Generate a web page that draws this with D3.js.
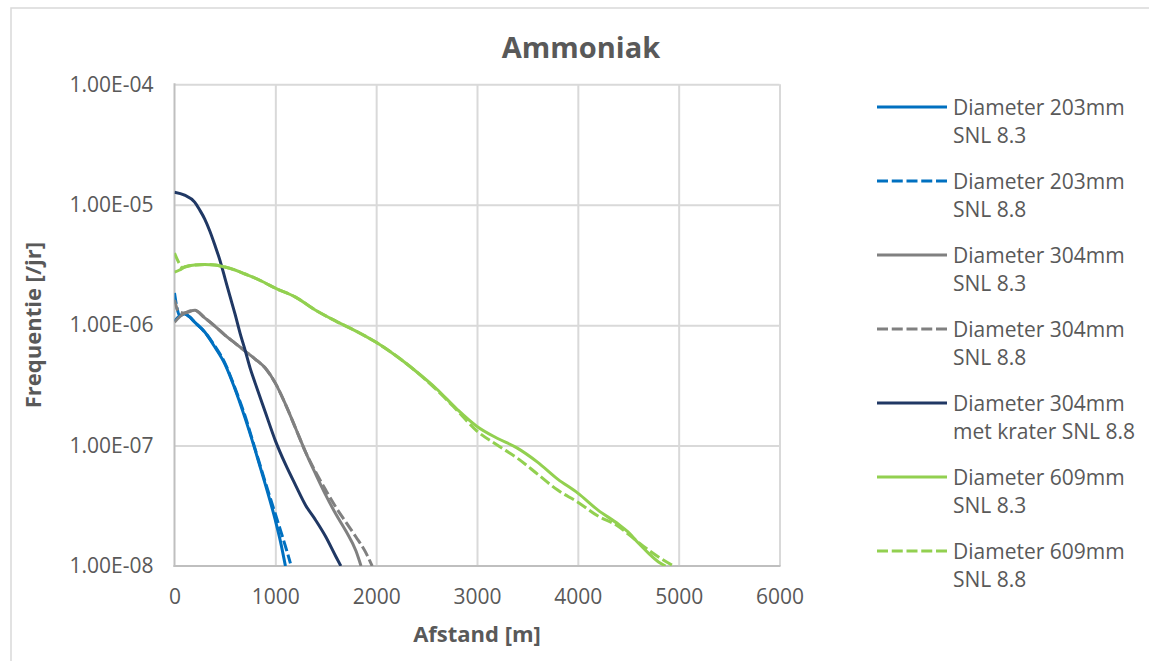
<!DOCTYPE html>
<html>
<head>
<meta charset="utf-8">
<script src="https://cdn.jsdelivr.net/npm/d3@7"></script>
<style>
  html, body { margin: 0; padding: 0; background: #fff; }
  svg { display: block; font-family: "Open Sans", sans-serif; }
</style>
</head>
<body>
<svg id="chart" width="1149" height="661"></svg>
<script>
// Distance axis ticks and frequency axis ticks
const xTicks = [0, 1000, 2000, 3000, 4000, 5000, 6000];
const yTicks = [1e-4, 1e-5, 1e-6, 1e-7, 1e-8];
const yTickLabels = ["1.00E-04", "1.00E-05", "1.00E-06", "1.00E-07", "1.00E-08"];

// Diameter 203mm, SNL 8.3
const d203_83_x = [0, 50, 100, 150, 200, 300, 400, 500, 600, 700, 800, 900, 1000, 1050, 1100];
const d203_83_y = [1.08e-6, 1.19e-6, 1.24e-6, 1.17e-6, 1.06e-6, 8.77e-7, 6.58e-7, 4.75e-7, 2.95e-7, 1.69e-7, 9.18e-8, 4.79e-8, 2.40e-8, 1.61e-8, 1.0e-8];

// Diameter 203mm, SNL 8.8
const d203_88_x = [0, 25, 50, 100, 150, 200, 300, 400, 500, 600, 700, 800, 900, 1000, 1050, 1100, 1150];
const d203_88_y = [1.85e-6, 1.39e-6, 1.2e-6, 1.24e-6, 1.17e-6, 1.06e-6, 8.77e-7, 6.71e-7, 4.84e-7, 3.0e-7, 1.76e-7, 9.35e-8, 4.98e-8, 2.70e-8, 1.99e-8, 1.46e-8, 1.05e-8];

// Diameter 304mm, SNL 8.3
const d304_83_x = [0, 100, 200, 300, 400, 500, 600, 700, 800, 900, 1000, 1100, 1200, 1300, 1400, 1500, 1600, 1700, 1800, 1850];
const d304_83_y = [1.06e-6, 1.26e-6, 1.33e-6, 1.15e-6, 9.83e-7, 8.27e-7, 7.10e-7, 6.09e-7, 5.23e-7, 4.40e-7, 3.30e-7, 2.21e-7, 1.40e-7, 8.83e-8, 5.80e-8, 3.88e-8, 2.70e-8, 1.95e-8, 1.33e-8, 1.0e-8];

// Diameter 304mm, SNL 8.8
const d304_88_x = [0, 40, 100, 200, 300, 400, 500, 600, 700, 800, 900, 1000, 1100, 1200, 1300, 1400, 1500, 1600, 1700, 1800, 1900, 1960];
const d304_88_y = [1.62e-6, 1.3e-6, 1.26e-6, 1.33e-6, 1.15e-6, 9.83e-7, 8.27e-7, 7.10e-7, 6.09e-7, 5.23e-7, 4.40e-7, 3.30e-7, 2.21e-7, 1.40e-7, 8.83e-8, 6.03e-8, 4.27e-8, 3.08e-8, 2.31e-8, 1.74e-8, 1.28e-8, 1.0e-8];

// Diameter 304mm met krater, SNL 8.8
const d304k_88_x = [0, 100, 200, 250, 300, 350, 400, 450, 500, 550, 600, 650, 700, 750, 800, 900, 1000, 1100, 1200, 1300, 1400, 1500, 1600, 1650];
const d304k_88_y = [1.27e-5, 1.2e-5, 1.05e-5, 9.04e-6, 7.6e-6, 6.05e-6, 4.63e-6, 3.47e-6, 2.46e-6, 1.74e-6, 1.24e-6, 8.6e-7, 6.21e-7, 4.4e-7, 3.3e-7, 1.9e-7, 1.1e-7, 7.0e-8, 4.7e-8, 3.2e-8, 2.4e-8, 1.75e-8, 1.2e-8, 1.0e-8];

// Diameter 609mm, SNL 8.3
const d609_83_x = [0, 50, 100, 200, 300, 400, 500, 600, 700, 800, 900, 1000, 1200, 1400, 1600, 1800, 2000, 2200, 2400, 2600, 2800, 3000, 3200, 3400, 3600, 3800, 4000, 4200, 4400, 4500, 4600, 4700, 4800, 4870];
const d609_83_y = [2.76e-6, 2.87e-6, 3.04e-6, 3.16e-6, 3.19e-6, 3.16e-6, 3.04e-6, 2.87e-6, 2.66e-6, 2.46e-6, 2.24e-6, 2.03e-6, 1.71e-6, 1.33e-6, 1.08e-6, 8.93e-7, 7.2e-7, 5.54e-7, 4.1e-7, 2.95e-7, 2.01e-7, 1.44e-7, 1.15e-7, 9.53e-8, 7.29e-8, 5.27e-8, 4.03e-8, 2.91e-8, 2.23e-8, 1.91e-8, 1.55e-8, 1.28e-8, 1.08e-8, 1.0e-8];

// Diameter 609mm, SNL 8.8
const d609_88_x = [0, 40, 80, 100, 200, 300, 400, 500, 600, 700, 800, 900, 1000, 1200, 1400, 1600, 1800, 2000, 2200, 2400, 2600, 2800, 3000, 3200, 3400, 3600, 3800, 4000, 4200, 4400, 4500, 4700, 4800, 4950];
const d609_88_y = [3.97e-6, 3.34e-6, 3.0e-6, 3.04e-6, 3.16e-6, 3.19e-6, 3.16e-6, 3.04e-6, 2.87e-6, 2.66e-6, 2.46e-6, 2.24e-6, 2.03e-6, 1.71e-6, 1.33e-6, 1.08e-6, 8.93e-7, 7.2e-7, 5.54e-7, 4.1e-7, 2.9e-7, 1.97e-7, 1.32e-7, 1.01e-7, 7.87e-8, 5.80e-8, 4.27e-8, 3.39e-8, 2.60e-8, 2.14e-8, 1.84e-8, 1.36e-8, 1.19e-8, 1.0e-8];

const seriesNames = [
  ["Diameter 203mm", "SNL 8.3"],
  ["Diameter 203mm", "SNL 8.8"],
  ["Diameter 304mm", "SNL 8.3"],
  ["Diameter 304mm", "SNL 8.8"],
  ["Diameter 304mm", "met krater SNL 8.8"],
  ["Diameter 609mm", "SNL 8.3"],
  ["Diameter 609mm", "SNL 8.8"]
];
const seriesX = [d203_83_x, d203_88_x, d304_83_x, d304_88_x, d304k_88_x, d609_83_x, d609_88_x];
const seriesY = [d203_83_y, d203_88_y, d304_83_y, d304_88_y, d304k_88_y, d609_83_y, d609_88_y];
const seriesColors = ["#0070C0", "#0070C0", "#808080", "#808080", "#203864", "#92D050", "#92D050"];
const seriesDashed = [false, true, false, true, false, false, true];

const svg = d3.select("#chart");
const textColor = "#595959";
const plot = { left: 174.5, right: 779.5, top: 84.3, bottom: 566 };

// Outer chart frame
svg.append("rect")
  .attr("x", 11).attr("y", 8)
  .attr("width", 1300).attr("height", 800)
  .attr("fill", "#fff")
  .attr("stroke", "#D9D9D9").attr("stroke-width", 1.5);

const x = d3.scaleLinear().domain([0, 6000]).range([plot.left, plot.right]);
const y = d3.scaleLog().domain([1e-8, 1e-4]).range([plot.bottom, plot.top]);

// Gridlines
const gridX = svg.append("g")
  .attr("transform", `translate(0,${plot.bottom})`)
  .call(d3.axisBottom(x).tickValues(xTicks.slice(1)).tickSize(-(plot.bottom - plot.top)).tickFormat(""));
gridX.select(".domain").remove();
gridX.selectAll("line").attr("stroke", "#D9D9D9").attr("stroke-width", 2);

const gridY = svg.append("g")
  .attr("transform", `translate(${plot.left},0)`)
  .call(d3.axisLeft(y).tickValues(yTicks.slice(0, 4)).tickSize(-(plot.right - plot.left)).tickFormat(""));
gridY.select(".domain").remove();
gridY.selectAll("line").attr("stroke", "#D9D9D9").attr("stroke-width", 2);

// Axis lines
svg.append("line")
  .attr("x1", plot.left).attr("x2", plot.left)
  .attr("y1", plot.top - 1).attr("y2", plot.bottom + 1)
  .attr("stroke", "#BFBFBF").attr("stroke-width", 2);
svg.append("line")
  .attr("x1", plot.left - 1).attr("x2", plot.right + 1)
  .attr("y1", plot.bottom).attr("y2", plot.bottom)
  .attr("stroke", "#BFBFBF").attr("stroke-width", 2);

// Tick labels
const xAxis = svg.append("g")
  .attr("transform", `translate(0,${plot.bottom})`)
  .call(d3.axisBottom(x).tickValues(xTicks).tickSize(0).tickPadding(23).tickFormat(d3.format("d")));
xAxis.select(".domain").remove();
xAxis.selectAll("text")
  .attr("fill", textColor)
  .style("font-family", "'Open Sans', sans-serif")
  .style("font-size", "21px");

const yAxis = svg.append("g")
  .attr("transform", `translate(${plot.left},0)`)
  .call(d3.axisLeft(y).tickValues(yTicks).tickSize(0).tickPadding(21)
    .tickFormat((d, i) => yTickLabels[i]));
yAxis.select(".domain").remove();
yAxis.selectAll("text")
  .attr("fill", textColor)
  .style("font-family", "'Open Sans', sans-serif")
  .style("font-size", "21px");

// Clip region for the series
svg.append("clipPath").attr("id", "plotClip")
  .append("rect")
  .attr("x", plot.left).attr("y", plot.top - 2)
  .attr("width", plot.right - plot.left).attr("height", plot.bottom - plot.top + 2);

const line = d3.line()
  .x(d => x(d[0]))
  .y(d => y(d[1]))
  .curve(d3.curveMonotoneX);

const dashPattern = "11,3.75";
const seriesG = svg.append("g").attr("clip-path", "url(#plotClip)");
seriesX.forEach((xs, i) => {
  const pts = xs.map((v, j) => [v, seriesY[i][j]]);
  seriesG.append("path")
    .datum(pts)
    .attr("d", line)
    .attr("fill", "none")
    .attr("stroke", seriesColors[i])
    .attr("stroke-width", 3)
    .attr("stroke-linejoin", "round")
    .attr("stroke-dasharray", seriesDashed[i] ? dashPattern : null);
});

// Title
svg.append("text")
  .attr("x", 581).attr("y", 58)
  .attr("text-anchor", "middle")
  .attr("fill", textColor)
  .style("font-size", "29px").style("font-weight", "bold")
  .text("Ammoniak");

// Axis titles
svg.append("text")
  .attr("x", (plot.left + plot.right) / 2).attr("y", 642)
  .attr("text-anchor", "middle")
  .attr("fill", textColor)
  .style("font-size", "22px").style("font-weight", "bold")
  .text("Afstand [m]");

svg.append("text")
  .attr("transform", `translate(41,${(plot.top + plot.bottom) / 2}) rotate(-90)`)
  .attr("text-anchor", "middle")
  .attr("fill", textColor)
  .style("font-size", "22px").style("font-weight", "bold")
  .text("Frequentie [/jr]");

// Legend
const legend = svg.append("g");
const legendTop = 107, legendStep = 74;
seriesNames.forEach((names, i) => {
  const ly = legendTop + i * legendStep;
  legend.append("line")
    .attr("x1", 877).attr("x2", 947)
    .attr("y1", ly).attr("y2", ly)
    .attr("stroke", seriesColors[i]).attr("stroke-width", 3)
    .attr("stroke-dasharray", seriesDashed[i] ? dashPattern : null);
  names.forEach((t, k) => {
    legend.append("text")
      .attr("x", 953).attr("y", ly + 8 + k * 28)
      .attr("fill", textColor)
      .style("font-size", "21px")
      .text(t);
  });
});
</script>
</body>
</html>
